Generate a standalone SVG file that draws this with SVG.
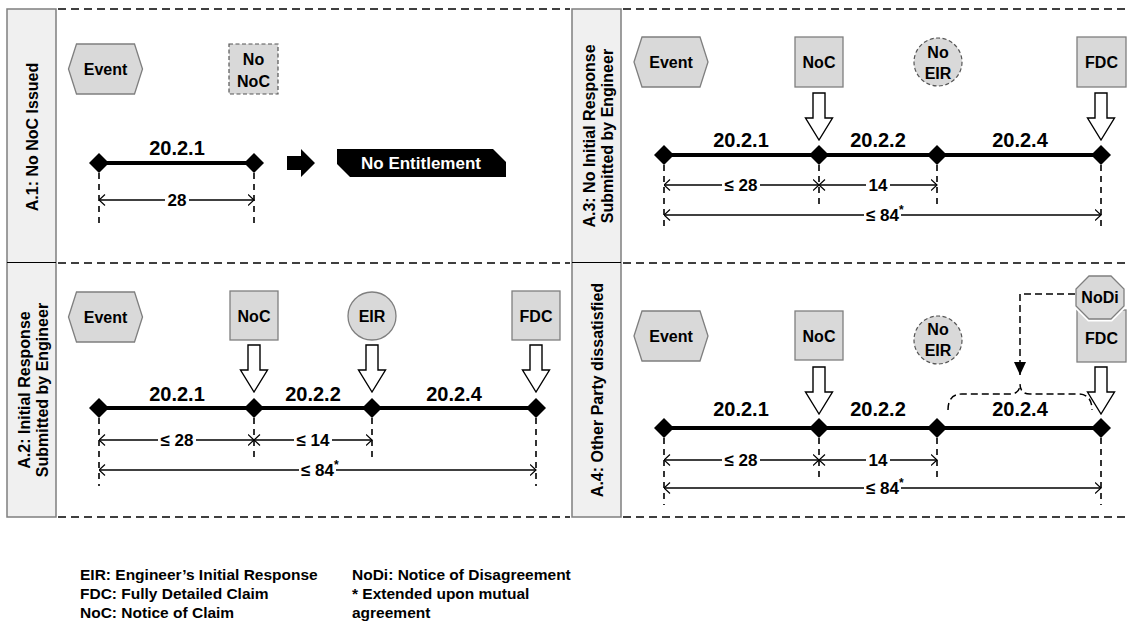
<svg xmlns="http://www.w3.org/2000/svg" width="1129" height="630" viewBox="0 0 1129 630">
  <defs>
    <style>
      text { font-family: "Liberation Sans", Arial, "DejaVu Sans", sans-serif; font-weight: bold; fill: #000; }
      .bar { fill: #f0f0f0; stroke: #7f7f7f; stroke-width: 1.5; }
      .bar-divider { stroke: #000; stroke-width: 1.2; }
      .sep { stroke: #000; stroke-width: 1.6; stroke-dasharray: 8 5; fill: none; }
      .box { fill: #d9d9d9; stroke: #7f7f7f; stroke-width: 1.3; }
      .box-dashed { fill: #d9d9d9; stroke: #555; stroke-width: 1.2; stroke-dasharray: 4 2.5; }
      .lbl { font-size: 16px; text-anchor: middle; }
      .side { font-size: 16px; text-anchor: middle; }
      .seg { font-size: 20px; text-anchor: middle; }
      .dim { font-size: 17px; text-anchor: middle; }
      .dim-start { font-size: 17px; }
      .gap { fill: #fff; }
      .sup { font-size: 12px; }
      .timeline { stroke: #000; stroke-width: 4; }
      .ext { stroke: #000; stroke-width: 1.6; stroke-dasharray: 6 5; }
      .dimline { stroke: #000; stroke-width: 1.3; fill: none; marker-start: url(#dimArrow); marker-end: url(#dimArrow); }
      .hollow { fill: #fff; stroke: #000; stroke-width: 1.4; stroke-linejoin: miter; }
      .legend { font-size: 15.5px; }
      .conn { fill: none; stroke: #000; stroke-width: 1.5; stroke-dasharray: 7 4; }
    </style>
    <marker id="dimArrow" viewBox="0 0 7 12" refX="6.5" refY="6" markerWidth="7" markerHeight="12" markerUnits="userSpaceOnUse" orient="auto-start-reverse">
      <path d="M0.5,0.5 L6.5,6 L0.5,11.5" fill="none" stroke="#000" stroke-width="1.2"/>
    </marker>
    <marker id="solidArrow" viewBox="0 0 12 13" refX="6" refY="13" markerWidth="12" markerHeight="13" markerUnits="userSpaceOnUse" orient="0">
      <path d="M0,0 L12,0 L6,13 Z" fill="#000"/>
    </marker>
    <path id="diamond" d="M-10,0 L0,-10 L10,0 L0,10 Z" fill="#000"/>
    <path id="downArrow" d="M-6,0 H6 V25 H13.5 L0,47 L-13.5,25 H-6 Z" class="hollow"/>
    <polygon id="hex" points="-37,0 -29,-25 29,-25 37,0 29,25 -29,25" class="box"/>
  </defs>

  <rect width="1129" height="630" fill="#fff"/>

  <!-- Scenario side bars -->
  <g id="sidebars">
    <rect class="bar" x="7" y="9" width="49" height="508"/>
    <line class="bar-divider" x1="7" y1="262.5" x2="56" y2="262.5"/>
    <rect class="bar" x="572" y="9" width="49" height="508"/>
    <line class="bar-divider" x1="572" y1="262.5" x2="621" y2="262.5"/>
    <text class="side" transform="translate(37.5,137) rotate(-90)">A.1: No NoC Issued</text>
    <text class="side" transform="translate(30,390) rotate(-90)">A.2: Initial Response</text>
    <text class="side" transform="translate(48,390) rotate(-90)">Submitted by Engineer</text>
    <text class="side" transform="translate(595,136) rotate(-90)">A.3: No Initial Response</text>
    <text class="side" transform="translate(613,136) rotate(-90)">Submitted by Engineer</text>
    <text class="side" transform="translate(602.5,390) rotate(-90)">A.4: Other Party dissatisfied</text>
  </g>

  <!-- Panel separators -->
  <g id="separators">
    <line class="sep" x1="58" y1="9" x2="570" y2="9"/>
    <line class="sep" x1="623" y1="9" x2="1127" y2="9"/>
    <line class="sep" x1="58" y1="263" x2="570" y2="263"/>
    <line class="sep" x1="623" y1="263" x2="1127" y2="263"/>
    <line class="sep" x1="58" y1="517" x2="570" y2="517"/>
    <line class="sep" x1="623" y1="517" x2="1127" y2="517"/>
  </g>

  <!-- ===== A.1: No NoC issued ===== -->
  <g id="a1-event">
    <use href="#hex" x="105.5" y="69"/>
    <text class="lbl" x="105.5" y="75">Event</text>
  </g>
  <g id="a1-no-noc">
    <rect class="box-dashed" x="229" y="44" width="49" height="50"/>
    <text class="lbl" x="253.5" y="65">No</text>
    <text class="lbl" x="253.5" y="87">NoC</text>
  </g>
  <g id="a1-timeline">
    <line class="timeline" x1="99" y1="163" x2="254" y2="163"/>
    <use href="#diamond" x="99" y="163"/>
    <use href="#diamond" x="254" y="163"/>
    <text class="seg" x="177" y="155">20.2.1</text>
    <line class="ext" x1="99" y1="173" x2="99" y2="227"/>
    <line class="ext" x1="254" y1="173" x2="254" y2="227"/>
    <line class="dimline" x1="99" y1="200" x2="254" y2="200"/>
    <rect class="gap" x="165" y="192" width="24" height="16"/>
    <text class="dim" x="177" y="206">28</text>
  </g>
  <g id="a1-result-arrow">
    <path d="M287,156 H301 V149 L315,163 L301,177 V170 H287 Z" fill="#000"/>
  </g>
  <g id="a1-no-entitlement">
    <path d="M337,149 H493 L506,162 V177 H350 L337,164 Z" fill="#000"/>
    <text x="421" y="169" style="fill:#fff;font-size:17px;text-anchor:middle">No Entitlement</text>
  </g>

  <!-- ===== A.3: No initial response ===== -->
  <g id="a3-event">
    <use href="#hex" x="671" y="62"/>
    <text class="lbl" x="671" y="68">Event</text>
  </g>
  <g id="a3-noc">
    <rect class="box" x="795" y="37" width="48" height="50"/>
    <text class="lbl" x="819" y="68">NoC</text>
    <use href="#downArrow" x="819" y="93"/>
  </g>
  <g id="a3-no-eir">
    <circle cx="938" cy="62" r="24" class="box-dashed"/>
    <text class="lbl" x="938" y="58">No</text>
    <text class="lbl" x="938" y="79">EIR</text>
  </g>
  <g id="a3-fdc">
    <rect class="box" x="1077" y="37" width="49" height="50"/>
    <text class="lbl" x="1101.5" y="68">FDC</text>
    <use href="#downArrow" x="1101" y="93"/>
  </g>
  <g id="a3-timeline">
    <line class="timeline" x1="664" y1="155" x2="1101" y2="155"/>
    <use href="#diamond" x="664" y="155"/>
    <use href="#diamond" x="819" y="155"/>
    <use href="#diamond" x="937" y="155"/>
    <use href="#diamond" x="1101" y="155"/>
    <text class="seg" x="741" y="147">20.2.1</text>
    <text class="seg" x="878" y="147">20.2.2</text>
    <text class="seg" x="1020" y="147">20.2.4</text>
    <line class="ext" x1="664" y1="165" x2="664" y2="231"/>
    <line class="ext" x1="819" y1="165" x2="819" y2="208"/>
    <line class="ext" x1="937" y1="165" x2="937" y2="208"/>
    <line class="ext" x1="1101" y1="165" x2="1101" y2="231"/>
    <line class="dimline" x1="664" y1="185" x2="819" y2="185"/>
    <line class="dimline" x1="819" y1="185" x2="937" y2="185"/>
    <line class="dimline" x1="664" y1="215" x2="1101" y2="215"/>
    <rect class="gap" x="722" y="177" width="38" height="16"/>
    <text class="dim" x="741" y="191">≤ 28</text>
    <rect class="gap" x="866" y="177" width="24" height="16"/>
    <text class="dim" x="878" y="191">14</text>
    <rect class="gap" x="864" y="207" width="37" height="16"/>
    <text class="dim-start" x="866" y="221">≤ 84<tspan class="sup" dy="-7">*</tspan></text>
  </g>

  <!-- ===== A.2: Initial response submitted ===== -->
  <g id="a2-event">
    <use href="#hex" x="105.5" y="317"/>
    <text class="lbl" x="105.5" y="323">Event</text>
  </g>
  <g id="a2-noc">
    <rect class="box" x="230" y="291" width="48" height="49"/>
    <text class="lbl" x="254" y="322">NoC</text>
    <use href="#downArrow" x="254" y="345"/>
  </g>
  <g id="a2-eir">
    <circle cx="372" cy="316" r="24" class="box"/>
    <text class="lbl" x="372" y="322">EIR</text>
    <use href="#downArrow" x="372" y="345"/>
  </g>
  <g id="a2-fdc">
    <rect class="box" x="512" y="291" width="48" height="49"/>
    <text class="lbl" x="536" y="322">FDC</text>
    <use href="#downArrow" x="536" y="345"/>
  </g>
  <g id="a2-timeline">
    <line class="timeline" x1="99" y1="408" x2="536" y2="408"/>
    <use href="#diamond" x="99" y="408"/>
    <use href="#diamond" x="254" y="408"/>
    <use href="#diamond" x="372" y="408"/>
    <use href="#diamond" x="536" y="408"/>
    <text class="seg" x="177" y="401">20.2.1</text>
    <text class="seg" x="313" y="401">20.2.2</text>
    <text class="seg" x="454" y="401">20.2.4</text>
    <line class="ext" x1="99" y1="418" x2="99" y2="486"/>
    <line class="ext" x1="254" y1="418" x2="254" y2="462"/>
    <line class="ext" x1="372" y1="418" x2="372" y2="462"/>
    <line class="ext" x1="536" y1="418" x2="536" y2="486"/>
    <line class="dimline" x1="99" y1="440" x2="254" y2="440"/>
    <line class="dimline" x1="254" y1="440" x2="372" y2="440"/>
    <line class="dimline" x1="99" y1="470" x2="536" y2="470"/>
    <rect class="gap" x="158" y="432" width="38" height="16"/>
    <text class="dim" x="177" y="446">≤ 28</text>
    <rect class="gap" x="294" y="432" width="38" height="16"/>
    <text class="dim" x="313" y="446">≤ 14</text>
    <rect class="gap" x="299" y="462" width="37" height="16"/>
    <text class="dim-start" x="301" y="476">≤ 84<tspan class="sup" dy="-7">*</tspan></text>
  </g>

  <!-- ===== A.4: Other party dissatisfied ===== -->
  <g id="a4-event">
    <use href="#hex" x="671" y="336"/>
    <text class="lbl" x="671" y="342">Event</text>
  </g>
  <g id="a4-noc">
    <rect class="box" x="795" y="311" width="48" height="49"/>
    <text class="lbl" x="819" y="342">NoC</text>
    <use href="#downArrow" x="819" y="367"/>
  </g>
  <g id="a4-no-eir">
    <circle cx="938" cy="340" r="24" class="box-dashed"/>
    <text class="lbl" x="938" y="335">No</text>
    <text class="lbl" x="938" y="356">EIR</text>
  </g>
  <g id="a4-fdc">
    <rect class="box" x="1077" y="310" width="49" height="52"/>
    <text class="lbl" x="1101.5" y="344">FDC</text>
    <use href="#downArrow" x="1101" y="367"/>
  </g>
  <g id="a4-nodi">
    <polygon points="1089,276 1111,276 1124,289 1124,306 1111,319 1089,319 1076,306 1076,289" fill="#d9d9d9" stroke="#fff" stroke-width="5"/>
    <polygon points="1089,276 1111,276 1124,289 1124,306 1111,319 1089,319 1076,306 1076,289" class="box"/>
    <text class="lbl" x="1100" y="303">NoDi</text>
  </g>
  <g id="a4-timeline">
    <line class="timeline" x1="664" y1="428" x2="1101" y2="428"/>
    <use href="#diamond" x="664" y="428"/>
    <use href="#diamond" x="819" y="428"/>
    <use href="#diamond" x="937" y="428"/>
    <use href="#diamond" x="1101" y="428"/>
    <text class="seg" x="741" y="416">20.2.1</text>
    <text class="seg" x="878" y="416">20.2.2</text>
    <text class="seg" x="1020" y="416">20.2.4</text>
    <line class="ext" x1="664" y1="438" x2="664" y2="505"/>
    <line class="ext" x1="819" y1="438" x2="819" y2="481"/>
    <line class="ext" x1="937" y1="438" x2="937" y2="481"/>
    <line class="ext" x1="1101" y1="438" x2="1101" y2="505"/>
    <line class="dimline" x1="664" y1="460" x2="819" y2="460"/>
    <line class="dimline" x1="819" y1="460" x2="937" y2="460"/>
    <line class="dimline" x1="664" y1="488" x2="1101" y2="488"/>
    <rect class="gap" x="722" y="452" width="38" height="16"/>
    <text class="dim" x="741" y="466">≤ 28</text>
    <rect class="gap" x="866" y="452" width="24" height="16"/>
    <text class="dim" x="878" y="466">14</text>
    <rect class="gap" x="864" y="480" width="37" height="16"/>
    <text class="dim-start" x="866" y="494">≤ 84<tspan class="sup" dy="-7">*</tspan></text>
  </g>

  <!-- Disagreement notice applies to the 20.2.4 stage -->
  <g id="connectors">
    <path class="conn" d="M1075,294 H1020 V375" marker-end="url(#solidArrow)"/>
    <path class="conn" d="M948,410 Q948,394 962,394 H1010 Q1020,394 1020,384 Q1020,394 1030,394 H1078 Q1092,394 1092,410"/>
  </g>

  <!-- Abbreviations -->
  <g id="legend">
    <text class="legend" x="80" y="580">EIR: Engineer’s Initial Response</text>
    <text class="legend" x="80" y="599">FDC: Fully Detailed Claim</text>
    <text class="legend" x="80" y="618">NoC: Notice of Claim</text>
    <text class="legend" x="352" y="580">NoDi: Notice of Disagreement</text>
    <text class="legend" x="352" y="599">* Extended upon mutual</text>
    <text class="legend" x="352" y="618">agreement</text>
  </g>
</svg>
